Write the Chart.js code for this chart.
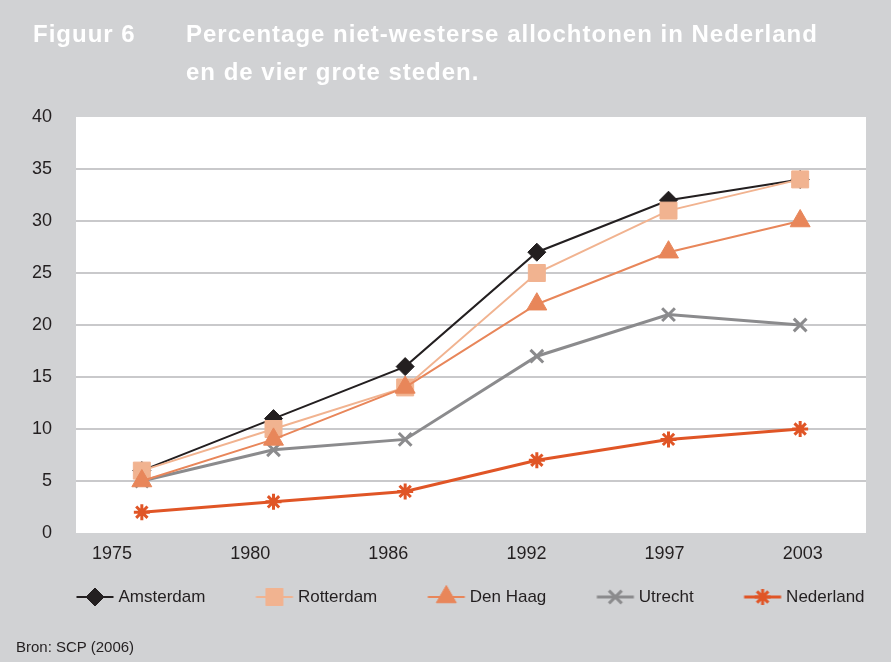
<!DOCTYPE html>
<html>
<head>
<meta charset="utf-8">
<script src="https://cdn.jsdelivr.net/npm/chart.js@4.4.0/dist/chart.umd.min.js"></script>
<style>
  html, body { margin: 0; padding: 0; background: #d1d2d4; }
  #wrap { position: relative; width: 891px; height: 662px; overflow: hidden; }
  #chart { position: absolute; left: 0; top: 0; }
  .title { position: absolute; top: 15px; color: #ffffff; font: bold 24px "Liberation Sans", Arial, sans-serif;
           letter-spacing: 1px; line-height: 38px; white-space: nowrap; }
  #fig { left: 33px; }
  #txt { left: 186px; }
  #bron { position: absolute; left: 16px; top: 638px; font: 15px "Liberation Sans", Arial, sans-serif;
          color: #231f20; line-height: 18px; }
</style>
</head>
<body>
<div id="wrap">
  <canvas id="chart" width="891" height="662"></canvas>
  <div class="title" id="fig">Figuur 6</div>
  <div class="title" id="txt">Percentage niet-westerse allochtonen in Nederland<br>en de vier grote steden.</div>
  <div id="bron">Bron: SCP (2006)</div>
</div>
<script>
// Data
const years = ["1975", "1980", "1986", "1992", "1997", "2003"];
const amsterdam = [6, 11, 16, 27, 32, 34];
const rotterdam = [6, 10, 14, 25, 31, 34];
const denHaag = [5, 9, 14, 22, 27, 30];
const utrecht = [5, 8, 9, 17, 21, 20];
const nederland = [2, 3, 4, 7, 9, 10];
const yTicks = [0, 5, 10, 15, 20, 25, 30, 35, 40];

// the year labels sit slightly left of the points in the original
const LABEL_START = -0.226;
const LABEL_STEP = 1.049;

const TEXT = "#231f20";
const FONT = "'Liberation Sans', Arial, sans-serif";

const series = [
  { label: "Amsterdam", data: amsterdam, color: "#231f20", width: 2, style: "rectRot", radius: 9, bw: 1, order: 5 },
  { label: "Rotterdam", data: rotterdam, color: "#f1b390", width: 2, style: "rect", radius: 12, bw: 1, order: 3 },
  { label: "Den Haag", data: denHaag, color: "#e8865a", width: 2, style: "triangle", radius: 11.5, bw: 1, order: 2 },
  { label: "Utrecht", data: utrecht, color: "#8b8b8d", width: 3, style: "crossRot", radius: 9, bw: 3, order: 4 },
  { label: "Nederland", data: nederland, color: "#e05526", width: 3, style: "star", radius: 8, bw: 3, order: 1 },
];

// legend symbol: short line with marker, drawn to a small canvas
const BOX = 78;
function legendIcon(s) {
  const c = document.createElement("canvas");
  c.width = BOX + 10;
  c.height = 28;
  const g = c.getContext("2d");
  g.strokeStyle = s.color;
  g.fillStyle = s.color;
  g.lineWidth = s.width;
  g.beginPath();
  g.moveTo(BOX - 28.5, 14);
  g.lineTo(BOX + 8.5, 14);
  g.stroke();
  g.lineWidth = s.bw;
  Chart.helpers.drawPoint(g, { pointStyle: s.style, radius: s.radius, rotation: 0, borderWidth: s.bw }, BOX - 10, 14);
  return c;
}
const icons = series.map(legendIcon);

const plotBg = {
  id: "plotBg",
  beforeDraw(chart) {
    const a = chart.chartArea;
    const ctx = chart.ctx;
    ctx.save();
    ctx.fillStyle = "#ffffff";
    ctx.fillRect(a.left, a.top, a.right - a.left, a.bottom - a.top);
    ctx.restore();
  },
};

new Chart(document.getElementById("chart"), {
  type: "line",
  data: {
    labels: years,
    datasets: series.map((s) => ({
      label: s.label,
      data: s.data,
      borderColor: s.color,
      backgroundColor: s.color,
      borderWidth: s.width,
      pointStyle: s.style,
      pointRadius: s.radius,
      pointHoverRadius: s.radius,
      pointBorderWidth: s.bw,
      tension: 0,
      order: s.order,
      xAxisID: "x",
      yAxisID: "y",
    })),
  },
  options: {
    responsive: false,
    animation: false,
    layout: { padding: { left: 26, right: 0, top: 117, bottom: 46.5 } },
    scales: {
      x: { type: "category", display: false, offset: true },
      x2: {
        type: "linear",
        position: "bottom",
        min: -0.5,
        max: 5.5,
        bounds: "data",
        grid: { display: false, drawTicks: false },
        border: { display: false },
        ticks: {
          autoSkip: false,
          maxRotation: 0,
          padding: 10,
          color: TEXT,
          font: { family: FONT, size: 18 },
          callback: (v, i) => years[i],
        },
        afterBuildTicks: (s) => {
          s.ticks = years.map((_, i) => ({ value: LABEL_START + i * LABEL_STEP }));
        },
        afterFit: (s) => { s.height = 49.5; },
      },
      y: {
        min: 0,
        max: 40,
        grid: {
          drawTicks: false,
          lineWidth: 2,
          color: (c) => (c.tick && (c.tick.value === 0 || c.tick.value === 40) ? "rgba(0,0,0,0)" : "#c9c9cb"),
        },
        border: { display: false },
        afterBuildTicks: (s) => { s.ticks = yTicks.map((v) => ({ value: v })); },
        ticks: { padding: 24, color: TEXT, font: { family: FONT, size: 18 } },
        afterFit: (s) => { s.width = 50; },
      },
      yR: {
        type: "linear",
        position: "right",
        grid: { display: false, drawTicks: false },
        border: { display: false },
        ticks: { display: false },
        afterFit: (s) => { s.width = 25; },
      },
    },
    plugins: {
      title: { display: false },
      tooltip: { enabled: false },
      legend: {
        position: "bottom",
        align: "start",
        labels: {
          usePointStyle: true,
          pointStyleWidth: BOX,
          padding: 6,
          color: TEXT,
          font: { family: FONT, size: 17 },
          generateLabels: (chart) =>
            chart.data.datasets.map((ds, i) => ({
              text: ds.label,
              pointStyle: icons[i],
              datasetIndex: i,
              fontColor: TEXT,
              fillStyle: "rgba(0,0,0,0)",
              strokeStyle: "rgba(0,0,0,0)",
              lineWidth: 0,
              hidden: false,
            })),
        },
      },
    },
  },
  plugins: [plotBg],
});
</script>
</body>
</html>
